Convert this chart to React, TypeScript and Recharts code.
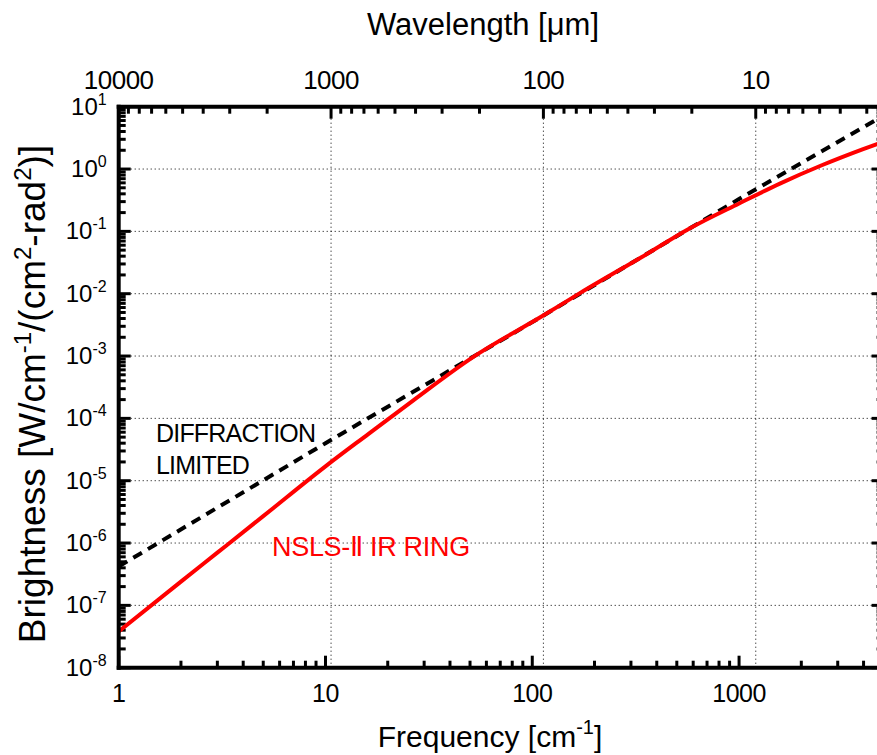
import React from 'react';
import { LineChart, Line, XAxis, YAxis, ReferenceLine, Label } from 'recharts';

// NSLS-II IR ring brightness (frequency in cm^-1, brightness in W/cm^-1/(cm^2-rad^2))
const ringFreq = [1, 2, 3, 5, 10, 16.1, 26.6, 51.9, 113.5, 170, 357, 579, 1000, 1585, 2512, 3981, 5000];
const ringBright = [3.8e-8, 2.4e-7, 7.0e-7, 2.7e-6, 1.7e-5, 5.6e-5, 1.95e-4, 9.7e-4, 4.5e-3, 1.02e-2, 4.3e-2, 0.112, 0.28, 0.59, 1.15, 2.09, 2.75];

// Diffraction limited brightness
const diffFreq = [1, 10, 100, 1000, 5000];
const diffBright = [4.2e-7, 4.0e-5, 3.5e-3, 0.33, 7.2];

// Axis domains and ticks
const freqDomain = [1, 5000];
const waveDomain = [2.5, 10000];
const brightDomain = [1e-8, 10];
const freqTicks = [1, 2, 3, 4, 5, 6, 7, 8, 9, 10, 20, 30, 40, 50, 60, 70, 80, 90, 100, 200, 300, 400, 500, 600, 700, 800, 900, 1000, 2000, 3000, 4000, 5000];
const waveTicks = [10000, 9000, 8000, 7000, 6000, 5000, 4000, 3000, 2000, 1000, 900, 800, 700, 600, 500, 400, 300, 200, 100, 90, 80, 70, 60, 50, 40, 30, 20, 10, 9, 8, 7, 6, 5, 4, 3];
const yExponents = [-8, -7, -6, -5, -4, -3, -2, -1, 0];
const yMantissas = [1, 2, 3, 4, 5, 6, 7, 8, 9];
const brightTicks = [...yExponents.flatMap((e) => yMantissas.map((m) => Number((m * Math.pow(10, e)).toPrecision(6)))), 10];
const hGrid = [1, 0.1, 0.01, 1e-3, 1e-4, 1e-5, 1e-6, 1e-7];
const vGridWave = [1000, 100, 10];

const ringData = ringFreq.map((f, i) => ({ f, b: ringBright[i] }));
const diffData = diffFreq.map((f, i) => ({ f, b: diffBright[i] }));
// same diffraction-limited curve expressed in wavelength (µm) to bind the top axis
const diffWaveData = diffFreq.map((f, i) => ({ w: 10000 / f, b: diffBright[i] }));

// ---- layout ----
const CHART_W = 900;
const CHART_H = 755;
const MARGIN = { top: 66.7, left: 58.7, right: 6.4, bottom: 47.3 };
const X_AXIS_H = 40;
const Y_LEFT_W = 60;
const Y_RIGHT_W = 10;
const PLOT_W = CHART_W - MARGIN.left - MARGIN.right - Y_LEFT_W - Y_RIGHT_W;
const PLOT_H = CHART_H - MARGIN.top - MARGIN.bottom - 2 * X_AXIS_H;

const FONT = '"Liberation Sans", Arial, Helvetica, sans-serif';
const MAJOR = 12;
const MINOR = 7;
const TW = 3;

const num = (v: any) => Number(v);

const isMajor = (v: number) => {
  const l = Math.log10(v);
  return Math.abs(l - Math.round(l)) < 1e-6;
};
const tickLen = (v: number) => (isMajor(v) ? MAJOR : MINOR);

// ---- tick labels (drawn through the axes) ----
const BottomLabel = (p: any) => {
  const v = p.payload.value;
  if (!isMajor(v)) return <g />;
  return (
    <text x={num(p.x)} y={num(p.y) + 34} textAnchor="middle" fontSize={25} fill="#000" fontFamily={FONT} letterSpacing={-0.5}>
      {v}
    </text>
  );
};

const TopLabel = (p: any) => {
  const v = p.payload.value;
  if (!isMajor(v)) return <g />;
  return (
    <text x={num(p.x)} y={num(p.y) - 18} textAnchor="middle" fontSize={26} fill="#000" fontFamily={FONT} letterSpacing={-0.5}>
      {v}
    </text>
  );
};

const LeftLabel = (p: any) => {
  const v = p.payload.value;
  if (!isMajor(v)) return <g />;
  const e = Math.round(Math.log10(v));
  return (
    <text x={num(p.x) - 12} y={num(p.y) + 8} textAnchor="end" fontSize={24} fill="#000" fontFamily={FONT}>
      <tspan>10</tspan>
      <tspan dy={-10} fontSize={16}>{String(e)}</tspan>
    </text>
  );
};

const axisLine = { stroke: '#000', strokeWidth: 4, strokeLinecap: 'square' as const };

const Titles = () => (
  <g fontFamily={FONT} fill="#000">
    <text x={483} y={35} textAnchor="middle" fontSize={31}>Wavelength [μm]</text>
    <text x={490} y={747} textAnchor="middle" fontSize={30}>
      Frequency [cm<tspan dy={-13} fontSize={20}>-1</tspan><tspan dy={13}>]</tspan>
    </text>
    <text transform="translate(45, 394) rotate(-90)" textAnchor="middle" fontSize={37}>
      Brightness [W/cm<tspan dy={-14} fontSize={24}>-1</tspan>
      <tspan dy={14}>/(cm</tspan><tspan dy={-14} fontSize={24}>2</tspan>
      <tspan dy={14}>-rad</tspan><tspan dy={-14} fontSize={24}>2</tspan>
      <tspan dy={14}>)]</tspan>
    </text>
    <text x={156} y={442} fontSize={25} letterSpacing={-0.8}>DIFFRACTION</text>
    <text x={156} y={474} fontSize={25} letterSpacing={-0.8}>LIMITED</text>
    <text x={272} y={556} fontSize={27} letterSpacing={-0.3} fill="#ff0000">NSLS-Ⅱ IR RING</text>
  </g>
);

// inward tick marks: full-span reference lines (which start at their own axis),
// dashed so that only the first few pixels next to that axis are painted
const tickProps = (len: number, span: number) => ({
  stroke: '#000',
  strokeWidth: TW,
  strokeDasharray: `${len} ${span + 50}`,
});

export default function App() {
  return (
    <div
      style={{
        position: 'fixed',
        left: 0,
        top: 0,
        width: 877,
        height: 755,
        overflow: 'hidden',
        background: '#fff',
        fontFamily: FONT,
      }}
    >
      <LineChart width={CHART_W} height={CHART_H} margin={MARGIN}>
        <XAxis
          xAxisId="bottom"
          dataKey="f"
          type="number"
          scale="log"
          domain={freqDomain}
          allowDataOverflow
          ticks={freqTicks}
          interval={0}
          tickSize={0}
          tickMargin={0}
          tickLine={false}
          tick={(p: any) => <BottomLabel {...p} />}
          axisLine={axisLine}
          height={X_AXIS_H}
          orientation="bottom"
        >
          <Label content={() => <Titles />} />
        </XAxis>
        <XAxis
          xAxisId="top"
          dataKey="w"
          type="number"
          scale="log"
          domain={waveDomain}
          reversed
          allowDataOverflow
          ticks={waveTicks}
          interval={0}
          tickSize={0}
          tickMargin={0}
          tickLine={false}
          tick={(p: any) => <TopLabel {...p} />}
          axisLine={axisLine}
          height={X_AXIS_H}
          orientation="top"
        />
        <YAxis
          yAxisId="left"
          dataKey="b"
          type="number"
          scale="log"
          domain={brightDomain}
          allowDataOverflow
          ticks={brightTicks}
          interval={0}
          tickSize={0}
          tickMargin={0}
          tickLine={false}
          tick={(p: any) => <LeftLabel {...p} />}
          axisLine={axisLine}
          width={Y_LEFT_W}
          orientation="left"
        />
        <YAxis
          yAxisId="right"
          dataKey="b"
          type="number"
          scale="log"
          domain={brightDomain}
          allowDataOverflow
          ticks={brightTicks}
          interval={0}
          tick={false}
          tickLine={false}
          axisLine={axisLine}
          width={Y_RIGHT_W}
          orientation="right"
        />
        {hGrid.map((v) => (
          <ReferenceLine key={'h' + v} y={v} yAxisId="left" xAxisId="bottom" stroke="#000" strokeWidth={1} strokeDasharray="1 3" />
        ))}
        {vGridWave.map((v) => (
          <ReferenceLine key={'v' + v} x={v} xAxisId="top" yAxisId="left" stroke="#000" strokeWidth={1} strokeDasharray="1 3" />
        ))}
        {freqTicks.map((v) => (
          <ReferenceLine key={'tb' + v} x={v} xAxisId="bottom" yAxisId="left" {...tickProps(tickLen(v), PLOT_H)} />
        ))}
        {waveTicks.map((v) => (
          <ReferenceLine key={'tt' + v} x={v} xAxisId="top" yAxisId="left" {...tickProps(tickLen(v), PLOT_H)} />
        ))}
        {brightTicks.map((v) => (
          <ReferenceLine key={'tl' + v} y={v} yAxisId="left" xAxisId="bottom" {...tickProps(tickLen(v), PLOT_W)} />
        ))}
        {brightTicks.map((v) => (
          <ReferenceLine key={'tr' + v} y={v} yAxisId="right" xAxisId="bottom" {...tickProps(tickLen(v), PLOT_W)} />
        ))}
        <Line
          data={diffWaveData}
          dataKey="b"
          xAxisId="top"
          yAxisId="right"
          type="linear"
          stroke="none"
          strokeWidth={0}
          dot={false}
          activeDot={false}
          isAnimationActive={false}
        />
        <Line
          data={diffData}
          dataKey="b"
          xAxisId="bottom"
          yAxisId="left"
          type="linear"
          stroke="#000"
          strokeWidth={4}
          strokeDasharray="10 7"
          dot={false}
          isAnimationActive={false}
        />
        <Line
          data={ringData}
          dataKey="b"
          xAxisId="bottom"
          yAxisId="left"
          type="monotone"
          stroke="#ff0000"
          strokeWidth={4}
          dot={false}
          isAnimationActive={false}
        />
      </LineChart>
    </div>
  );
}
